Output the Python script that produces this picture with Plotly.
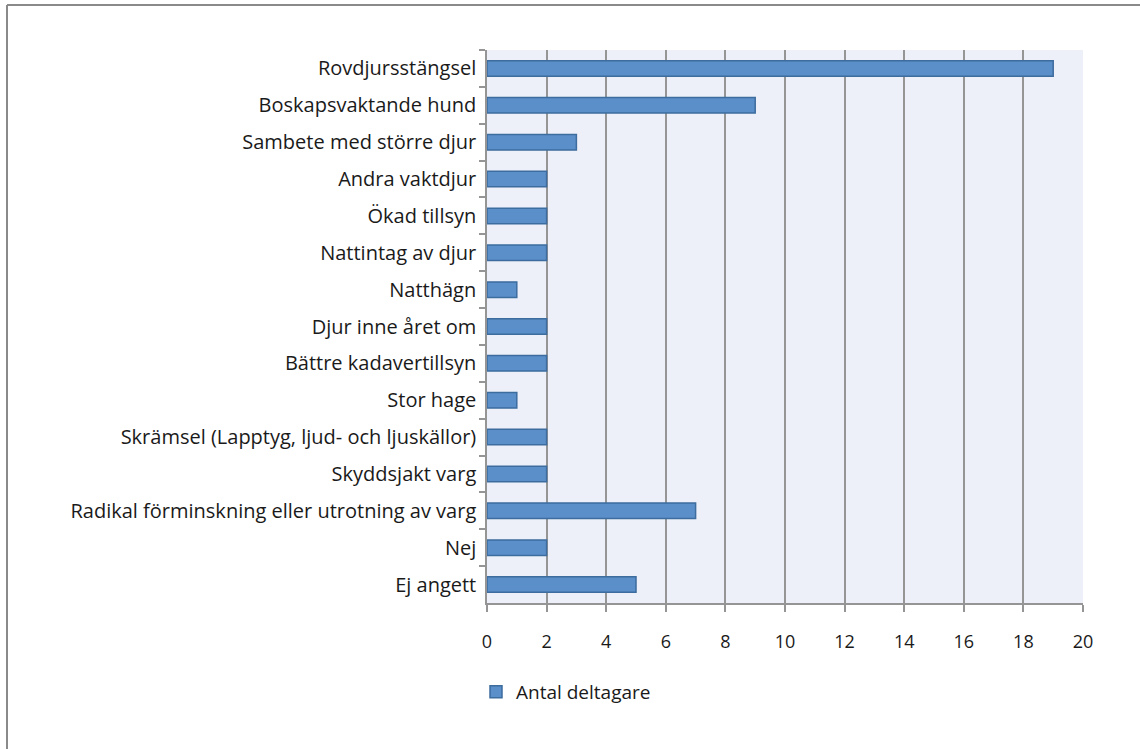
import plotly.graph_objects as go

categories = [
    "Rovdjursstängsel",
    "Boskapsvaktande hund",
    "Sambete med större djur",
    "Andra vaktdjur",
    "Ökad tillsyn",
    "Nattintag av djur",
    "Natthägn",
    "Djur inne året om",
    "Bättre kadavertillsyn",
    "Stor hage",
    "Skrämsel (Lapptyg, ljud- och ljuskällor)",
    "Skyddsjakt varg",
    "Radikal förminskning eller utrotning av varg",
    "Nej",
    "Ej angett",
]
values = [19, 9, 3, 2, 2, 2, 1, 2, 2, 1, 2, 2, 7, 2, 5]
series_name = "Antal deltagare"
x_ticks = [0, 2, 4, 6, 8, 10, 12, 14, 16, 18, 20]

W, H = 1140, 749
L, R, T, B = 487, 1083, 50, 603

def px_x(px):
    return (px - L) / (R - L)

def px_y(py):
    return (B - py) / (B - T)

fig = go.Figure()
fig.add_trace(go.Bar(
    y=categories, x=values, orientation="h", name=series_name,
    marker=dict(color="#5B8FC9", line=dict(color="#3D6C9E", width=1.5)),
    showlegend=True,
))

font_family = "'Open Sans', sans-serif"
fig.update_layout(
    width=W, height=H,
    margin=dict(l=L, r=W - R, t=T, b=H - B, pad=0),
    paper_bgcolor="white",
    plot_bgcolor="#EDF0F8",
    bargap=0.58,
    font=dict(family=font_family, size=20, color="#1A1A1A"),
    xaxis=dict(
        range=[0, 20], tickvals=x_ticks, showgrid=True,
        gridcolor="#959595", gridwidth=1.5,
        showline=True, linecolor="#959595", linewidth=1.5,
        ticks="outside", ticklen=7, tickcolor="#959595", tickwidth=1.5,
        ticklabelstandoff=15, zeroline=False, fixedrange=True,
        tickfont=dict(size=18),
    ),
    yaxis=dict(
        autorange="reversed", showgrid=False,
        showline=True, linecolor="#959595", linewidth=1.5,
        ticks="outside", ticklen=6, tickcolor="#959595", tickwidth=1.5,
        tickson="boundaries", ticklabelstandoff=5, fixedrange=True,
    ),
    legend=dict(
        orientation="h", x=px_x(476), y=px_y(673), xanchor="left", yanchor="top",
        font=dict(size=19, color="#1A1A1A"), bgcolor="rgba(0,0,0,0)",
        itemwidth=30,
    ),
    shapes=[
        dict(type="line", xref="paper", yref="paper",
             x0=px_x(7), x1=px_x(1160), y0=px_y(5), y1=px_y(5),
             line=dict(color="#8A8A8A", width=2)),
        dict(type="line", xref="paper", yref="paper",
             x0=px_x(7), x1=px_x(7), y0=px_y(5), y1=px_y(770),
             line=dict(color="#8A8A8A", width=2)),
    ],
)

fig.write_html(
    "out.html",
    config={"displayModeBar": False},
    post_script="document.body.style.margin='0';document.body.style.overflow='hidden';",
)
